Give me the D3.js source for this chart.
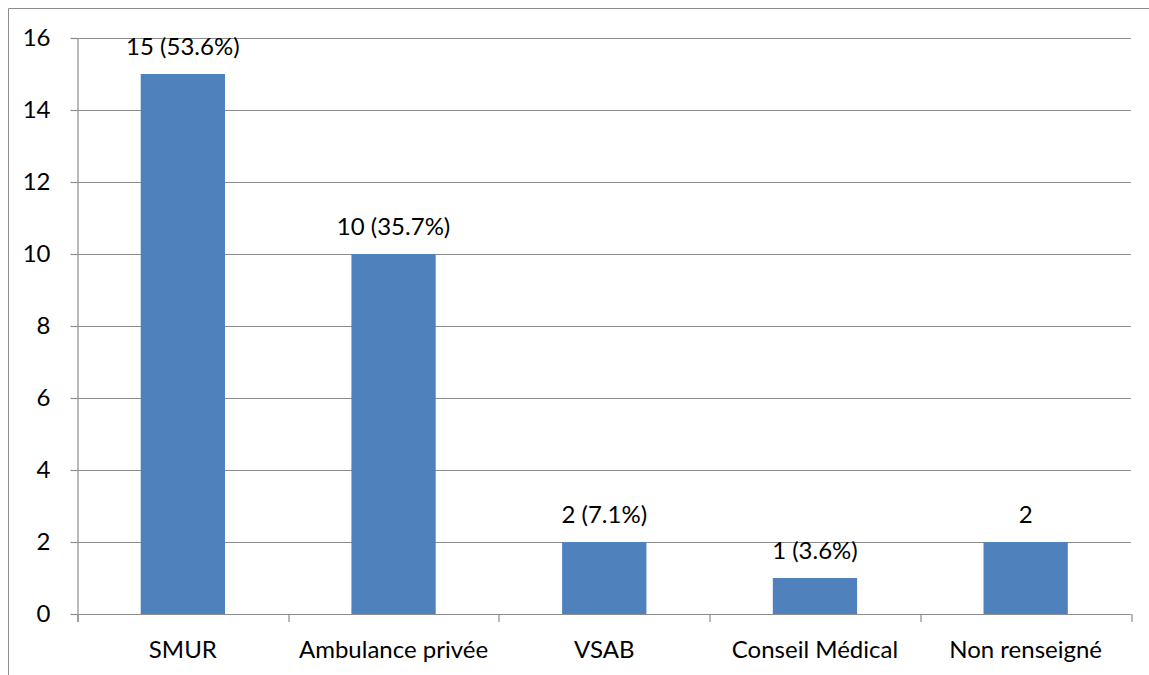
<!DOCTYPE html>
<html>
<head>
<meta charset="utf-8">
<script src="https://cdn.jsdelivr.net/npm/d3@7"></script>
<style>
  body { margin: 0; background: #fff; }
  text { font-family: Lato, "Open Sans", "Liberation Sans", sans-serif; fill: #000; }
</style>
</head>
<body>
<div id="chart"></div>
<script>
// Data
var categories = ["SMUR", "Ambulance privée", "VSAB", "Conseil Médical", "Non renseigné"];
var counts = [15, 10, 2, 1, 2];
var barLabels = ["15 (53.6%)", "10 (35.7%)", "2 (7.1%)", "1 (3.6%)", "2"];
var yTicks = [0, 2, 4, 6, 8, 10, 12, 14, 16];

var svgWidth = 1149;
var svgHeight = 675;
var margin = { top: 38, right: 18, bottom: 61, left: 77.5 };
var width = 1131 - margin.left;
var height = 614 - margin.top;
var fontSize = "24px";

var svg = d3.select("#chart")
  .append("svg")
  .attr("width", svgWidth)
  .attr("height", svgHeight);

// outer frame (cut off on right and bottom)
svg.append("path")
  .attr("d", "M8.5,700 V8.5 H1160")
  .attr("fill", "none")
  .attr("stroke", "#8c8c8c")
  .attr("stroke-width", 1);

var chartGroup = svg.append("g")
  .attr("transform", `translate(${margin.left}, ${margin.top})`);

var xScale = d3.scaleBand()
  .domain(categories)
  .range([0, width]);

var yScale = d3.scaleLinear()
  .domain([0, 16])
  .range([height, 0]);

// gridlines
chartGroup.selectAll(".grid")
  .data(yTicks.filter(d => d > 0))
  .enter()
  .append("line")
  .attr("x1", 0)
  .attr("x2", width)
  .attr("y1", d => Math.round(yScale(d)) + 0.5)
  .attr("y2", d => Math.round(yScale(d)) + 0.5)
  .attr("stroke", "#8c8c8c")
  .attr("stroke-width", 1.2);

// bars
var barW = xScale.bandwidth() * 0.4;
chartGroup.selectAll("rect")
  .data(counts)
  .enter()
  .append("rect")
  .attr("x", (d, i) => xScale(categories[i]) + xScale.bandwidth() / 2 - barW / 2)
  .attr("y", d => yScale(d))
  .attr("width", barW)
  .attr("height", d => height - yScale(d))
  .attr("fill", "#4f81bd");

// bar labels
chartGroup.selectAll(".barlabel")
  .data(counts)
  .enter()
  .append("text")
  .attr("x", (d, i) => xScale(categories[i]) + xScale.bandwidth() / 2)
  .attr("y", d => yScale(d) - 19)
  .attr("text-anchor", "middle")
  .style("font-size", fontSize)
  .text((d, i) => barLabels[i]);

// left axis
var leftAxis = d3.axisLeft(yScale)
  .tickValues(yTicks)
  .tickSize(7)
  .tickPadding(20)
  .tickFormat(d3.format("d"));

var yAxisG = chartGroup.append("g").call(leftAxis);
yAxisG.selectAll(".tick line").attr("stroke", "#8c8c8c").attr("stroke-width", 1.2);
yAxisG.selectAll(".tick text").style("font-size", fontSize).attr("fill", "#000");
yAxisG.select(".domain").attr("stroke", "#8c8c8c").attr("stroke-width", 1.2)
  .attr("d", `M0.5,0V${height + 8}`);

// bottom axis
var boundaries = categories.map(c => xScale(c)).concat([width]);
var xAxisG = chartGroup.append("g")
  .attr("transform", `translate(0, ${height})`);
xAxisG.append("line")
  .attr("x1", 0).attr("x2", width)
  .attr("y1", 0.5).attr("y2", 0.5)
  .attr("stroke", "#8c8c8c").attr("stroke-width", 1.2);
xAxisG.selectAll(".xtick")
  .data(boundaries)
  .enter()
  .append("line")
  .attr("x1", d => Math.round(d) + 0.5)
  .attr("x2", d => Math.round(d) + 0.5)
  .attr("y1", 0)
  .attr("y2", 8)
  .attr("stroke", "#8c8c8c").attr("stroke-width", 1.2);
xAxisG.selectAll(".xlabel")
  .data(categories)
  .enter()
  .append("text")
  .attr("x", d => xScale(d) + xScale.bandwidth() / 2)
  .attr("y", 44)
  .attr("text-anchor", "middle")
  .style("font-size", fontSize)
  .text(d => d);
</script>
</body>
</html>
